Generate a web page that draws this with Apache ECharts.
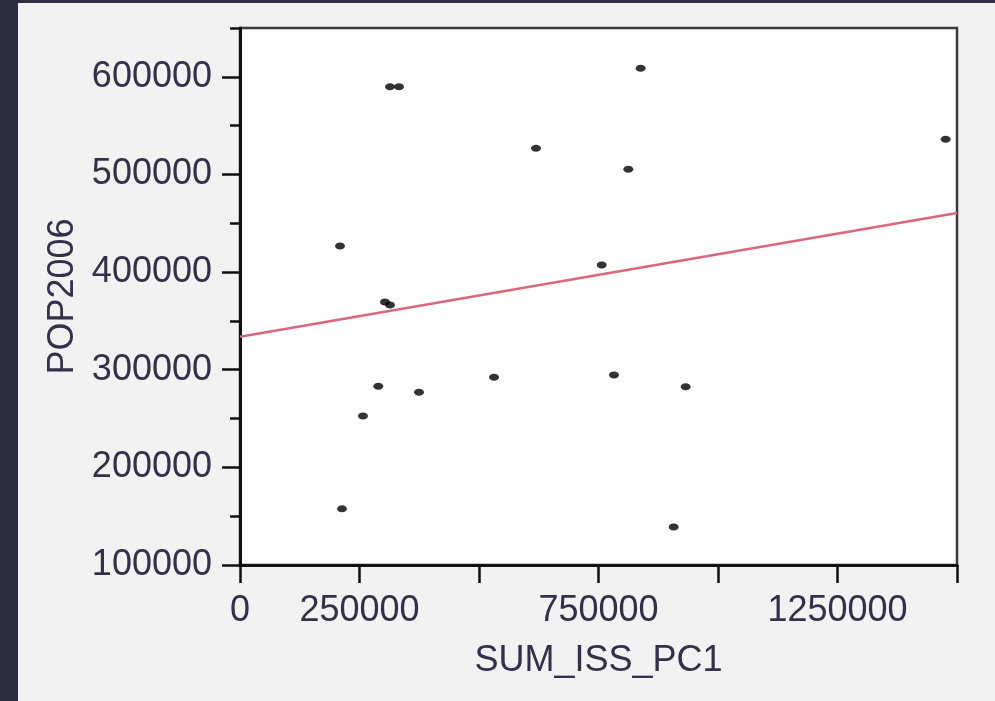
<!DOCTYPE html>
<html>
<head>
<meta charset="utf-8">
<script src="https://cdn.jsdelivr.net/npm/echarts@6/dist/echarts.min.js"></script>
<style>
  html, body { margin: 0; padding: 0; width: 995px; height: 701px; background: #2e2d3d; overflow: hidden; }
  #panel { position: absolute; left: 18px; top: 3px; width: 977px; height: 698px; background: #f2f2f2; }
</style>
</head>
<body>
<div id="panel"></div>
<script>
// ---- data ----
const sumIssPc1 = [209200, 213400, 257300, 289300, 374500, 531400, 782400, 932400, 907300, 756700,
                   303300, 313800, 313800, 332600, 619200, 812400, 838200, 1476300];
const pop2006   = [426700, 157500, 252600, 283000, 276900, 292200, 294600, 282600, 138900, 407300,
                   369400, 366300, 589900, 589900, 526800, 505300, 608700, 536000];
const fitX = [0, 1500000];
const fitY = [333800, 460600];
const xLabelValues = [0, 250000, 750000, 1250000];
const xTickValues = [0, 250000, 500000, 750000, 1000000, 1250000, 1500000];
const yMajorValues = [100000, 200000, 300000, 400000, 500000, 600000];
const yMinorValues = [150000, 250000, 350000, 450000, 550000, 650000];

const points = sumIssPc1.map((x, i) => [x, pop2006[i]]);
const fitLine = fitX.map((x, i) => [x, fitY[i]]);

const textColor = '#35304a';
const font = 'Liberation Sans, Arial, sans-serif';
const plain = v => String(v);

const chart = echarts.init(document.getElementById('panel'), null, { renderer: 'canvas' });
chart.setOption({
  animation: false,
  backgroundColor: '#f2f2f2',
  grid: {
    left: 222, top: 25, right: 38, bottom: 136,
    show: true, backgroundColor: '#ffffff', borderColor: '#3a3a3a', borderWidth: 2.5
  },
  xAxis: {
    type: 'value', min: 0, max: 1500000, interval: 250000,
    name: 'SUM_ISS_PC1', nameLocation: 'middle', nameGap: 78,
    nameTextStyle: { color: textColor, fontSize: 36, fontFamily: font },
    axisLine: { show: true, onZero: false, lineStyle: { color: '#111', width: 3 } },
    axisTick: { show: true, inside: false, length: 18, customValues: xTickValues, lineStyle: { color: '#111', width: 2.5 } },
    axisLabel: { customValues: xLabelValues, formatter: plain, margin: 28, color: textColor, fontSize: 36, fontFamily: font },
    splitLine: { show: false }
  },
  yAxis: [{
    type: 'value', min: 100000, max: 650000, interval: 100000,
    name: 'POP2006', nameLocation: 'middle', nameGap: 158,
    nameTextStyle: { color: textColor, fontSize: 36, fontFamily: font },
    axisLine: { show: true, onZero: false, lineStyle: { color: '#111', width: 3 } },
    axisTick: { show: true, inside: false, length: 18, customValues: yMajorValues, lineStyle: { color: '#111', width: 2.5 } },
    axisLabel: { customValues: yMajorValues, formatter: plain, margin: 28, color: textColor, fontSize: 36, fontFamily: font },
    splitLine: { show: false }
  }, {
    type: 'value', min: 100000, max: 650000, interval: 50000, position: 'left',
    axisLine: { show: false },
    axisTick: { show: true, inside: false, length: 10, customValues: yMinorValues, lineStyle: { color: '#111', width: 2.5 } },
    axisLabel: { show: false },
    splitLine: { show: false }
  }],
  series: [{
    type: 'line', data: fitLine, symbol: 'none', z: 2,
    lineStyle: { color: '#d8697c', width: 2.5 }
  }, {
    type: 'scatter', data: points, symbol: 'circle', symbolSize: [10, 7], z: 3,
    itemStyle: { color: '#000' }
  }]
});
</script>
</body>
</html>
